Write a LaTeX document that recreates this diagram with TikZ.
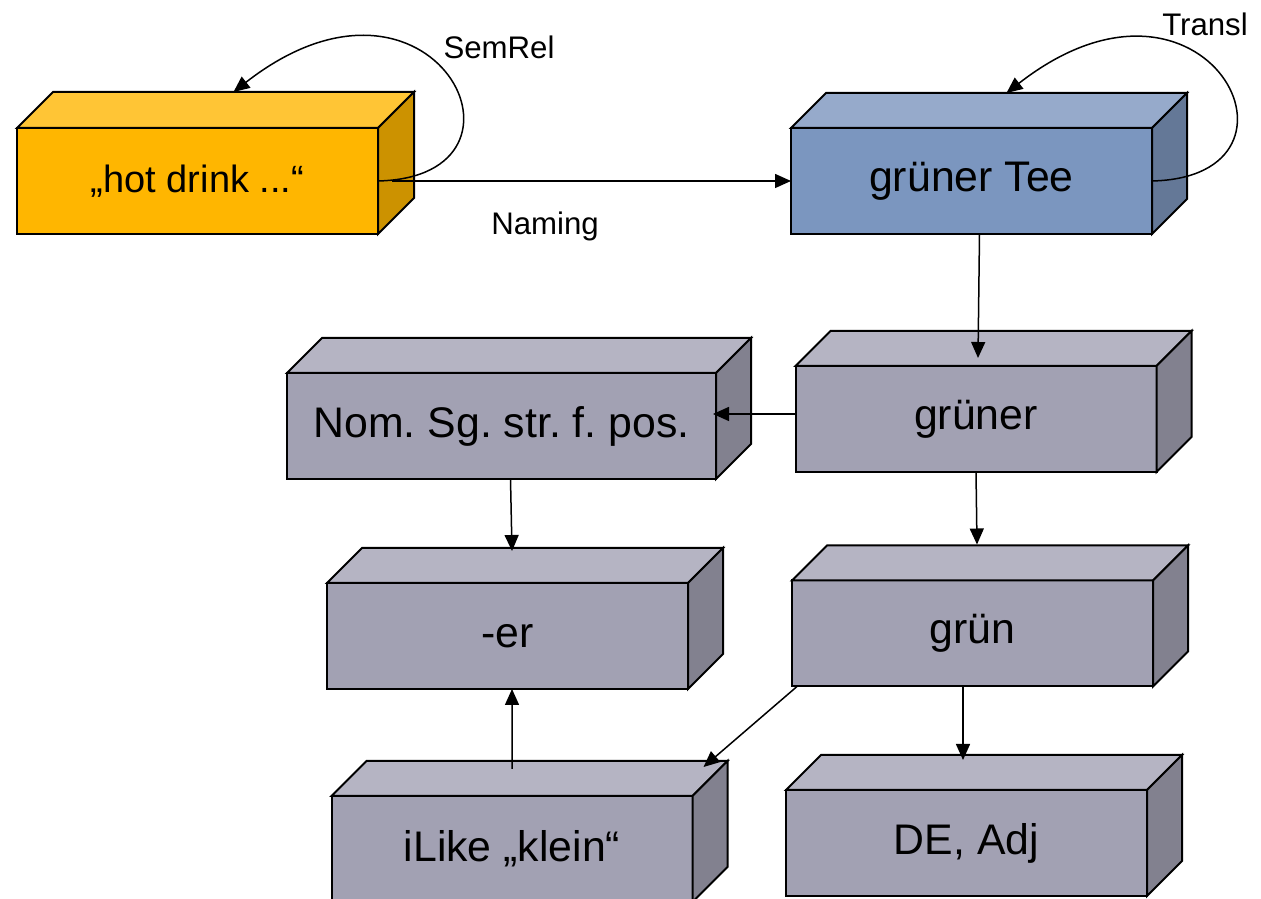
\documentclass[tikz,border=0pt]{standalone}
\usepackage{fontspec}
\setmainfont{Liberation Sans}
\frenchspacing
\usetikzlibrary{positioning,calc,arrows,arrows.meta}

\definecolor{orangefront}{RGB}{255,182,0}
\definecolor{orangetop}{RGB}{255,197,53}
\definecolor{orangeside}{RGB}{204,146,0}
\definecolor{bluefront}{RGB}{123,150,191}
\definecolor{bluetop}{RGB}{150,170,203}
\definecolor{blueside}{RGB}{100,120,151}
\definecolor{grayfront}{RGB}{162,161,179}
\definecolor{graytop}{RGB}{181,180,195}
\definecolor{grayside}{RGB}{130,129,143}

\begin{document}
\begin{tikzpicture}[>={Triangle[length=8bp,width=7bp]},
  cube/.style={draw, line width=1bp, outer sep=0pt, inner sep=0pt,
    minimum width=180.5bp, minimum height=53bp,
    font=\fontsize{21.4bp}{25bp}\selectfont},
  face/.style={draw, line width=1bp},
  lbl/.style={font=\fontsize{15.6bp}{18bp}\selectfont},
  edge/.style={->, line width=0.75bp}]
  \useasboundingbox (0bp,0bp) rectangle (630.5bp,449.5bp);
  %%
  % Node: hotdrink
  \begin{scope}
    \node[cube, fill=orangefront, font=\fontsize{19bp}{22bp}\selectfont] (hotdrink) at (98.75bp,359bp) {„hot drink ...“};
    \draw[face, fill=orangetop] (hotdrink.north west) -- ++(18bp,18bp) -- ([shift={(18bp,18bp)}]hotdrink.north east) -- (hotdrink.north east) -- cycle;
    \draw[face, fill=orangeside] (hotdrink.north east) -- ++(18bp,18bp) -- ([shift={(18bp,18bp)}]hotdrink.south east) -- (hotdrink.south east) -- cycle;
  \end{scope}
  % Node: gruenertee
  \begin{scope}
    \node[cube, fill=bluefront] (gruenertee) at (485.75bp,359bp) {grüner Tee};
    \draw[face, fill=bluetop] (gruenertee.north west) -- ++(17.5bp,17.5bp) -- ([shift={(17.5bp,17.5bp)}]gruenertee.north east) -- (gruenertee.north east) -- cycle;
    \draw[face, fill=blueside] (gruenertee.north east) -- ++(17.5bp,17.5bp) -- ([shift={(17.5bp,17.5bp)}]gruenertee.south east) -- (gruenertee.south east) -- cycle;
  \end{scope}
  % Node: nom
  \begin{scope}
    \node[cube, fill=grayfront, minimum width=214.5bp] (nom) at (250.75bp,236.5bp) {Nom. Sg. str. f. pos.};
    \draw[face, fill=graytop] (nom.north west) -- ++(17.5bp,17.5bp) -- ([shift={(17.5bp,17.5bp)}]nom.north east) -- (nom.north east) -- cycle;
    \draw[face, fill=grayside] (nom.north east) -- ++(17.5bp,17.5bp) -- ([shift={(17.5bp,17.5bp)}]nom.south east) -- (nom.south east) -- cycle;
  \end{scope}
  % Node: gruener
  \begin{scope}
    \node[cube, fill=grayfront] (gruener) at (488bp,240bp) {grüner};
    \draw[face, fill=graytop] (gruener.north west) -- ++(17.5bp,17.5bp) -- ([shift={(17.5bp,17.5bp)}]gruener.north east) -- (gruener.north east) -- cycle;
    \draw[face, fill=grayside] (gruener.north east) -- ++(17.5bp,17.5bp) -- ([shift={(17.5bp,17.5bp)}]gruener.south east) -- (gruener.south east) -- cycle;
  \end{scope}
  % Node: er
  \begin{scope}
    \node[cube, fill=grayfront] (er) at (253.75bp,131.5bp) {-er};
    \draw[face, fill=graytop] (er.north west) -- ++(17.5bp,17.5bp) -- ([shift={(17.5bp,17.5bp)}]er.north east) -- (er.north east) -- cycle;
    \draw[face, fill=grayside] (er.north east) -- ++(17.5bp,17.5bp) -- ([shift={(17.5bp,17.5bp)}]er.south east) -- (er.south east) -- cycle;
  \end{scope}
  % Node: gruen
  \begin{scope}
    \node[cube, fill=grayfront] (gruen) at (486.25bp,132.75bp) {grün};
    \draw[face, fill=graytop] (gruen.north west) -- ++(17.5bp,17.5bp) -- ([shift={(17.5bp,17.5bp)}]gruen.north east) -- (gruen.north east) -- cycle;
    \draw[face, fill=grayside] (gruen.north east) -- ++(17.5bp,17.5bp) -- ([shift={(17.5bp,17.5bp)}]gruen.south east) -- (gruen.south east) -- cycle;
  \end{scope}
  % Node: ilike
  \begin{scope}
    \node[cube, fill=grayfront] (ilike) at (256bp,25bp) {iLike „klein“};
    \draw[face, fill=graytop] (ilike.north west) -- ++(17.5bp,17.5bp) -- ([shift={(17.5bp,17.5bp)}]ilike.north east) -- (ilike.north east) -- cycle;
    \draw[face, fill=grayside] (ilike.north east) -- ++(17.5bp,17.5bp) -- ([shift={(17.5bp,17.5bp)}]ilike.south east) -- (ilike.south east) -- cycle;
  \end{scope}
  % Node: deadj
  \begin{scope}
    \node[cube, fill=grayfront] (deadj) at (483.25bp,28bp) {DE, Adj};
    \draw[face, fill=graytop] (deadj.north west) -- ++(17.5bp,17.5bp) -- ([shift={(17.5bp,17.5bp)}]deadj.north east) -- (deadj.north east) -- cycle;
    \draw[face, fill=grayside] (deadj.north east) -- ++(17.5bp,17.5bp) -- ([shift={(17.5bp,17.5bp)}]deadj.south east) -- (deadj.south east) -- cycle;
  \end{scope}
  %
  % Edge: hotdrink -> hotdrink
  \draw[edge] (hotdrink.east) .. controls +(88bp,2bp) and +(100bp,78bp) .. ([shift={(18bp,18bp)}]hotdrink.north);
  \node[lbl] (semrel) at (249.5bp,426bp) {SemRel};
  % Edge: hotdrink -> gruenertee
  \draw[edge] ([xshift=7bp]hotdrink.east) -- (gruenertee.west);
  \node[lbl] (naming) at (272.5bp,336.5bp) {Naming};
  % Edge: gruenertee -> gruenertee
  \draw[edge] (gruenertee.east) .. controls +(88bp,2bp) and +(100bp,78bp) .. ([shift={(17.5bp,17.5bp)}]gruenertee.north);
  \node[lbl] (transl) at (602.5bp,437.5bp) {Transl};
  % Edge: gruenertee -> gruener
  \draw[edge] ([xshift=4bp]gruenertee.south) -- ([shift={(1bp,4bp)}]gruener.north);
  % Edge: gruener -> nom
  \draw[edge] ([yshift=2.5bp]gruener.west) -- ([xshift=-1.5bp,yshift=6bp]nom.east);
  % Edge: gruener -> gruen
  \draw[edge] (gruener.south) -- ([shift={(2.25bp,18bp)}]gruen.north);
  % Edge: nom -> er
  \draw[edge] ([xshift=4.5bp]nom.south) -- ([shift={(2.25bp,16bp)}]er.north);
  % Edge: gruen -> ilike
  \draw[edge] ([xshift=2.5bp]gruen.south west) -- ([shift={(5.5bp,14.5bp)}]ilike.north east);
  % Edge: gruen -> deadj
  \draw[edge] ([xshift=-4.75bp]gruen.south) -- ([shift={(-1.75bp,15bp)}]deadj.north);
  % Edge: ilike -> er
  \draw[edge] ([yshift=13.5bp]ilike.north) -- ([xshift=2.25bp]er.south);
  %
\end{tikzpicture}
\end{document}
